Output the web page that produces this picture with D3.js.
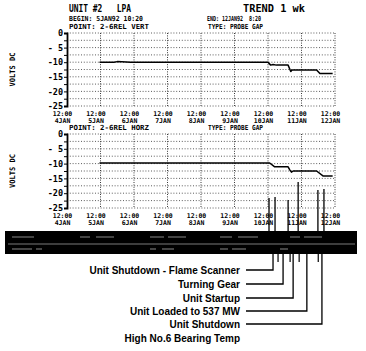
<!DOCTYPE html>
<html><head><meta charset="utf-8">
<script src="https://cdn.jsdelivr.net/npm/d3@7"></script>
<style>body{margin:0;background:#fff}svg{display:block}text{white-space:pre}</style>
</head><body>
<script>
// ---- data ----
const dayLabels = ["4JAN","5JAN","6JAN","7JAN","8JAN","9JAN","10JAN","11JAN","12JAN"];
const timeLabel = "12:00";
const yTickValues = [0,-5,-10,-15,-20,-25];
const yTickLabels = ["0","- 5","-10","-15","-20","-25"];
// days since 4JAN 12:00
const vertDays   = [0.97,1.4,1.5,1.9,6.0,6.08,6.15,6.25,6.6,6.68,6.72,7.45,7.55,7.93];
const vertValues = [-10,-10,-9.8,-10,-10,-11.0,-10.8,-11.0,-11.0,-13.2,-12.7,-12.7,-13.9,-13.9];
const horzDays   = [0.97,6.05,6.2,6.6,6.65,6.7,6.75,7.45,7.65,7.93];
const horzValues = [-9.8,-9.8,-11.1,-11.1,-12.1,-12.9,-12.5,-12.5,-14.2,-14.2];
// event marker lines (day, top level in lower chart units)
const eventDays   = [6.03,6.21,6.6,6.9,7.49,7.67];
const eventLevels = [-21.6,-21.3,-22.3,-16.2,-18.9,-18.6];
const stubDays    = [6.3,6.66,6.93,7.5];
const annotations = ["Unit Shutdown - Flame Scanner","Turning Gear","Unit Startup","Unit Loaded to 537 MW","Unit Shutdown","High No.6 Bearing Temp"];
const annotationDays = [6.15,6.45,6.75,7.16,7.61,null];

// ---- layout ----
const W = 366, H = 351;
const svg = d3.select("body").append("svg").attr("width", W).attr("height", H);
const mono = "'DejaVu Sans Mono', monospace";
const x = d3.scaleLinear().domain([0, 8]).range([67, 335]);

function header(t, xx, yy, size, len) {
  svg.append("text").attr("x", xx).attr("y", yy).attr("font-family", mono)
    .attr("font-weight", "bold").attr("font-size", size)
    .attr("textLength", len).attr("lengthAdjust", "spacingAndGlyphs").text(t);
}
header("UNIT #2   LPA", 69, 12, 10, 62);
header("TREND 1 wk", 243, 12, 10, 62);
header("BEGIN: 5JAN92 10:20", 69, 21, 7, 74);
header("END: 12JAN92  8:20", 207, 21, 7, 54);

function panel(y0, y1, pointText, days, values, labY) {
  const y = d3.scaleLinear().domain([0, -25]).range([y0, y1]);
  header(pointText, 69, y0 - 4, 7, 80);
  header("TYPE: PROBE GAP", 208, y0 - 4, 7, 55);
  // VOLTS DC
  svg.append("text").attr("transform", `translate(15,${(y0 + y1) / 2}) rotate(-90)`)
    .attr("text-anchor", "middle").attr("font-family", mono).attr("font-weight", "bold")
    .attr("font-size", 7.5).attr("textLength", 34).attr("lengthAdjust", "spacingAndGlyphs").text("VOLTS DC");
  const g = svg.append("g");
  // horizontal dotted grid
  g.selectAll("line.hg").data(d3.range(0, -25.01, -2.5)).join("line")
    .attr("x1", x(0)).attr("x2", x(8)).attr("y1", d => y(d)).attr("y2", d => y(d))
    .attr("stroke", "#333").attr("stroke-width", 0.8).attr("stroke-dasharray", "1,1.8");
  // vertical dotted grid
  g.selectAll("line.vg").data(d3.range(1, 9)).join("line")
    .attr("x1", d => x(d)).attr("x2", d => x(d)).attr("y1", y(0)).attr("y2", y(-25))
    .attr("stroke", "#222").attr("stroke-width", 0.9).attr("stroke-dasharray", "1,1.4");
  // y axis
  const ax = d3.axisLeft(y).tickValues(d3.range(0, -25.01, -2.5)).tickSize(3).tickPadding(2)
    .tickFormat(d => { const i = yTickValues.indexOf(d); return i >= 0 ? yTickLabels[i] : ""; });
  const ag = svg.append("g").attr("transform", `translate(${x(0)},0)`).call(ax);
  ag.select(".domain").attr("stroke", "#000").attr("stroke-width", 1.8);
  ag.selectAll("line").attr("stroke", "#000").attr("stroke-width", 1);
  ag.selectAll("text").attr("font-family", mono).attr("font-weight", "bold").attr("font-size", 8.5)
    .attr("dy", "0.32em").attr("x", -4).attr("fill", "#000");
  // x labels
  const xa = d3.axisBottom(x).tickValues(d3.range(0, 9)).tickSize(0).tickFormat("");
  const xg = svg.append("g").attr("transform", `translate(-5,${labY})`).call(xa);
  xg.select(".domain").remove();
  const tk = xg.selectAll(".tick");
  tk.append("text").attr("y", 0).attr("text-anchor", "middle").attr("font-family", mono)
    .attr("font-weight", "bold").attr("font-size", 6.5).attr("fill", "#000").text(timeLabel);
  tk.append("text").attr("y", 7).attr("text-anchor", "middle").attr("font-family", mono)
    .attr("font-weight", "bold").attr("font-size", 6.5).attr("fill", "#000").text((d, i) => dayLabels[i]);
  // trend line
  const line = d3.line().x((d, i) => x(days[i])).y(d => y(d));
  svg.append("path").datum(values).attr("d", line).attr("fill", "none")
    .attr("stroke", "#000").attr("stroke-width", 1.5).attr("stroke-linejoin", "round");
  return y;
}
panel(33, 106, "POINT: 2-6REL VERT", vertDays, vertValues, 116);
const yB = panel(134, 208, "POINT: 2-6REL HORZ", horzDays, horzValues, 218);

// event lines
const bandTop = 231, bandBot = 254;
svg.selectAll("line.ev").data(eventDays).join("line")
  .attr("x1", d => x(d)).attr("x2", d => x(d))
  .attr("y1", (d, i) => yB(eventLevels[i])).attr("y2", bandTop)
  .attr("stroke", "#000").attr("stroke-width", 1.3);

// black band
svg.append("rect").attr("x", 5).attr("y", bandTop).attr("width", 352).attr("height", bandBot - bandTop).attr("fill", "#000");
svg.append("line").attr("x1", 8).attr("x2", 355).attr("y1", 244).attr("y2", 244).attr("stroke", "#9a9a9a").attr("stroke-width", 0.8);
// faint printout texture inside band
const tex = [[12,236,22],[80,236,10],[96,236,18],[150,236,14],[168,236,18],[220,236,12],[238,236,20],[290,236,10],[304,236,18],
             [12,248,20],[36,248,6],[150,248,6],[162,248,12],[220,248,8],[232,248,14],[280,248,8]];
svg.selectAll("rect.tx").data(tex).join("rect").attr("x", d => d[0]).attr("y", d => d[1]).attr("width", d => d[2]).attr("height", 2)
  .attr("fill", "#444");

// stubs below band
svg.selectAll("line.st").data(stubDays).join("line")
  .attr("x1", d => x(d)).attr("x2", d => x(d)).attr("y1", bandBot).attr("y2", bandBot + 8)
  .attr("stroke", "#000").attr("stroke-width", 1.2);

// annotations
const annY = [270, 284, 298, 311, 324, 338];
annotations.forEach((t, i) => {
  svg.append("text").attr("x", 240).attr("y", annY[i] + 3.5).attr("text-anchor", "end")
    .attr("font-family", "'Liberation Sans', Arial, sans-serif").attr("font-weight", "bold")
    .attr("font-size", 10).attr("fill", "#000").text(t);
  if (annotationDays[i] !== null) {
    const xc = x(annotationDays[i]);
    svg.append("path").attr("d", `M246,${annY[i]}H${xc}V${bandBot}`).attr("fill", "none")
      .attr("stroke", "#000").attr("stroke-width", 1.3);
  }
});
</script>
</body></html>
